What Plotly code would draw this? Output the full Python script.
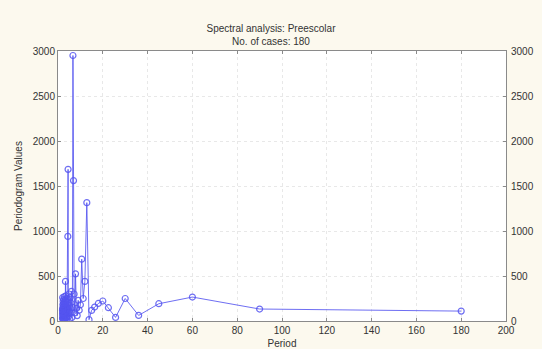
import plotly.graph_objects as go

# Period (180/k, k = 1..90), typed values
periods = [180.0, 90.0, 60.0, 45.0, 36.0, 30.0, 25.71, 22.5, 20.0, 18.0,
           16.36, 15.0, 13.85, 12.86, 12.0, 11.25, 10.59, 10.0, 9.47, 9.0,
           8.57, 8.18, 7.83, 7.5, 7.2, 6.92, 6.67, 6.43, 6.21, 6.0,
           5.81, 5.63, 5.45, 5.29, 5.14, 5.0, 4.86, 4.74, 4.62, 4.5,
           4.39, 4.29, 4.19, 4.09, 4.0, 3.91, 3.83, 3.75, 3.67, 3.6,
           3.53, 3.46, 3.4, 3.33, 3.27, 3.21, 3.16, 3.1, 3.05, 3.0,
           2.95, 2.9, 2.86, 2.81, 2.77, 2.73, 2.69, 2.65, 2.61, 2.57,
           2.54, 2.5, 2.47, 2.43, 2.4, 2.37, 2.34, 2.31, 2.28, 2.25,
           2.22, 2.2, 2.17, 2.14, 2.12, 2.09, 2.07, 2.05, 2.02, 2.0]

periodogram = [110, 133, 266, 192, 62, 250, 40, 148, 222, 195,
               155, 118, 15, 1315, 440, 250, 687, 180, 120, 230,
               60, 140, 524, 90, 300, 1560, 2950, 150, 40, 330,
               200, 90, 260, 20, 170, 110, 300, 50, 200, 1685,
               940, 130, 60, 250, 20, 160, 90, 210, 40, 120,
               280, 10, 180, 440, 70, 150, 30, 230, 100, 60,
               190, 20, 140, 270, 50, 110, 200, 30, 80, 160,
               240, 10, 120, 60, 190, 90, 30, 150, 220, 70,
               130, 20, 180, 100, 50, 140, 260, 80, 30, 120]

x_ticks = [0, 20, 40, 60, 80, 100, 120, 140, 160, 180, 200]
y_ticks = [0, 500, 1000, 1500, 2000, 2500, 3000]

line_color = "rgba(85,85,240,0.85)"
font = dict(family="Liberation Sans, Arial, sans-serif", size=10, color="#333333")

fig = go.Figure()
fig.add_trace(go.Scatter(
    x=periods, y=periodogram, mode="lines+markers",
    line=dict(color=line_color, width=1),
    marker=dict(symbol="circle-open", size=6, color=line_color, line=dict(width=1.2)),
    showlegend=False,
))
# invisible trace for the right-hand axis
fig.add_trace(go.Scatter(x=[0], y=[0], yaxis="y2", mode="markers",
                         marker=dict(opacity=0), showlegend=False, hoverinfo="skip"))

axis_common = dict(
    showline=True, linecolor="#8a8a8a", linewidth=1,
    ticks="inside", ticklen=3, tickcolor="#8a8a8a",
    showgrid=True, gridcolor="#e8e8e8", griddash="dot", gridwidth=1,
    zeroline=False, tickfont=font, automargin=False,
)

fig.update_layout(
    width=542, height=349,
    paper_bgcolor="#fcf9ee", plot_bgcolor="#ffffff",
    margin=dict(l=58, r=36, t=51, b=28, autoexpand=False),
    font=font,
    title=dict(text="Spectral analysis: Preescolar<br>No. of cases: 180",
               x=0.5, xanchor="center", y=1 - 32 / 349, yanchor="middle",
               yref="container", font=dict(size=10, color="#333333"),
               automargin=False),
    xaxis=dict(range=[0, 200], tickvals=x_ticks, mirror="ticks",
               title=dict(text="Period", font=font, standoff=4), **axis_common),
    yaxis=dict(range=[0, 3000], tickvals=y_ticks, mirror="ticks",
               title=dict(text="Periodogram Values", font=font, standoff=8), **axis_common),
    yaxis2=dict(range=[0, 3000], tickvals=y_ticks, overlaying="y", side="right",
                showline=False, ticks="", showgrid=False, zeroline=False,
                tickfont=font, automargin=False, ticklabelstandoff=4),
)

fig.write_html(
    "out.html",
    config={"displayModeBar": False},
    post_script="document.body.style.margin='0';document.body.style.background='#fcf9ee';",
)
